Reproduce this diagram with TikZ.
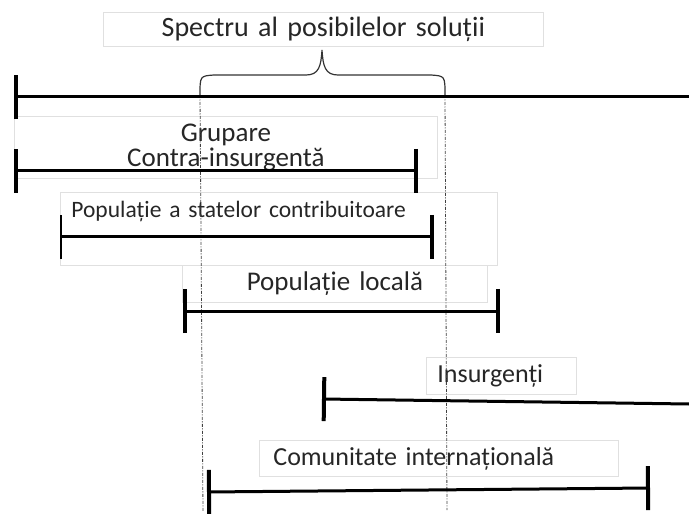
\documentclass[tikz,border=0pt]{standalone}
\usepackage{fontspec}
\setmainfont{Carlito}[WordSpace=0.55]
\usetikzlibrary{arrows.meta}
\tikzset{
	capat/.tip={Bar[width=44pt 0,line width=4pt 0]}, % capat gros al segmentelor
	capatsubtire/.tip={Bar[width=44pt 0,line width=1.6pt 0]}, % capat subtire
	bara/.style={line width=3pt, capat-capat}, % segment cu doua capete
	barast/.style={line width=3pt, capat-}, % segment deschis la dreapta
	cutie/.style={draw=black!12, line width=0.8pt, inner sep=0pt, anchor=north west, text=black!85}, % chenarele textelor
	ghid/.style={line width=0.8pt, black!75, dash pattern=on 3pt off 1.5pt on 1pt off 1.5pt} % liniile verticale
}

\begin{document}
\begin{tikzpicture}[x=1pt,y=-1pt]
	\useasboundingbox (0,0) rectangle (689,516);
	% chenare cu texte
	\node[cutie, text width=440pt, minimum height=34pt, align=center, font=\fontsize{28}{30}\selectfont] (spectru) at (103,12) {Spectru al posibilelor soluții};
	\node[cutie, text width=423pt, minimum height=62pt, align=center, font=\fontsize{27}{25}\selectfont] (grupare) at (14,116) {Grupare\\Contra-insurgentă};
	\node[cutie, inner xsep=11pt, text width=415pt, align=left, text height=25pt, text depth=48pt, font=\fontsize{23.5}{26}\selectfont] (statele) at (60,192) {Populație a statelor contribuitoare};
	\node[cutie, text width=305pt, minimum height=37pt, align=center, font=\fontsize{27}{29}\selectfont] (locala) at (182,265) {Populație locală};
	\node[cutie, inner xsep=11pt, text width=128pt, minimum height=37pt, align=left, font=\fontsize{26}{28}\selectfont] (insurgenti) at (426,357) {Insurgenți};
	\node[cutie, inner xsep=14pt, text width=331pt, minimum height=36pt, align=left, font=\fontsize{26}{28}\selectfont] (comunitate) at (259,440) {Comunitate internațională};
	% capetele segmentelor
	\coordinate (axa-st) at (14,97);
	\coordinate (axa-dr) at (689,97);
	\coordinate (gr-st) at (14,171);
	\coordinate (gr-dr) at (418,171);
	\coordinate (st-st) at (60,237);
	\coordinate (st-dr) at (434,237);
	\coordinate (loc-st) at (183,311);
	\coordinate (loc-dr) at (500,311);
	\coordinate (ins-st) at (322,399);
	\coordinate (ins-dr) at (689,404);
	\coordinate (com-st) at (207,492);
	\coordinate (com-dr) at (650,488);
	% acolada si liniile ghid
	\coordinate (ac-st) at (200,95);
	\coordinate (ac-dr) at (445,95);
	\coordinate (ac-varf) at (322,50);
	\coordinate (ghid-st) at (203,512);
	\coordinate (ghid-dr) at (447,510);
	\draw[ghid] (ac-st) -- (ghid-st);
	\draw[ghid] (ac-dr) -- (ghid-dr);
	\draw[line width=1.2pt, black!80] (ac-st) .. controls (200,76) .. (214,75) -- (306,75)
		.. controls (319,75) and (321,66) .. (ac-varf)
		.. controls (323,66) and (325,75) .. (338,75) -- (431,75)
		.. controls (445,76) .. (ac-dr);
	% segmentele
	\draw[barast] (axa-st) -- (axa-dr);
	\draw[bara] (gr-st) -- (gr-dr);
	\draw[line width=3pt, capatsubtire-capat] (st-st) -- (st-dr);
	\draw[bara] (loc-st) -- (loc-dr);
	\draw[barast] (ins-st) -- (ins-dr);
	\draw[bara] (com-st) -- (com-dr);
\end{tikzpicture}
\end{document}
